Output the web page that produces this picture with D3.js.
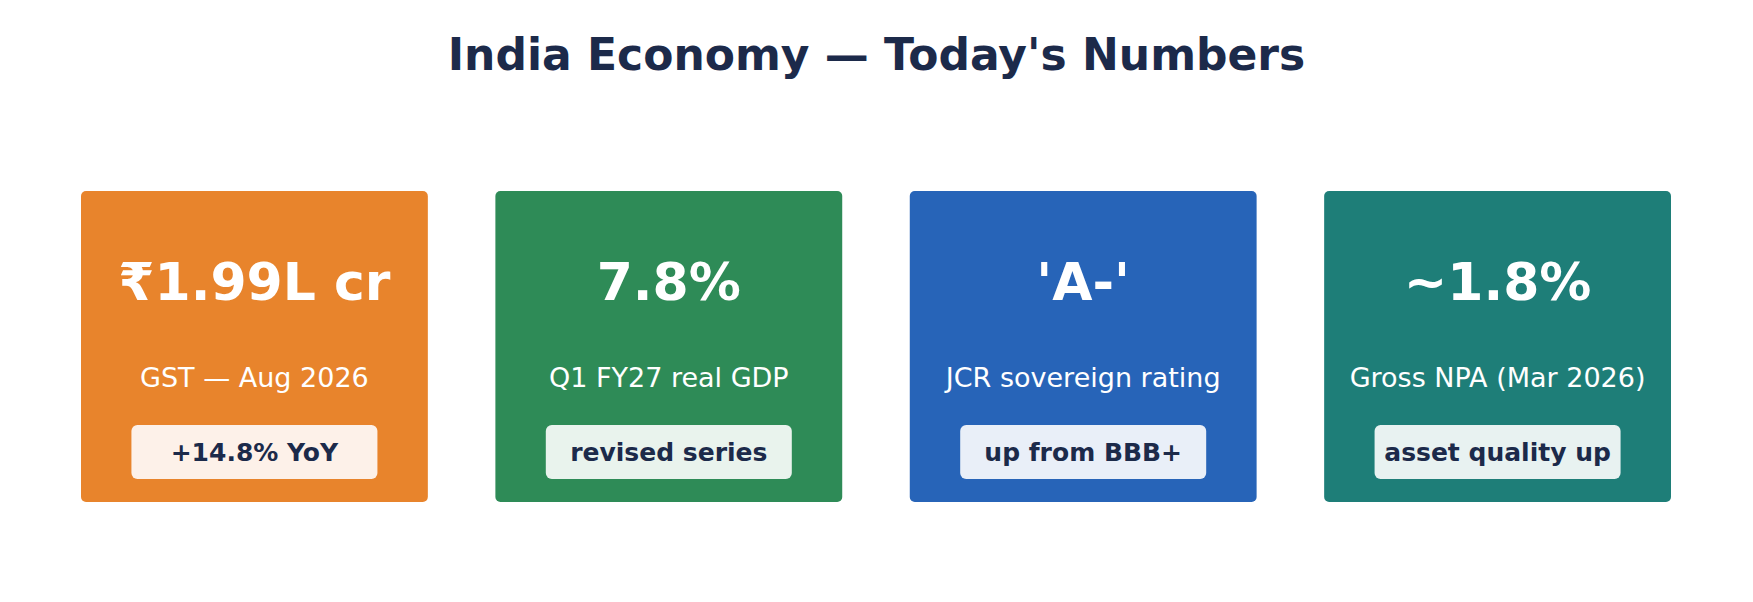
<!DOCTYPE html>
<html><head><meta charset="utf-8">
<script src="https://cdn.jsdelivr.net/npm/d3@7"></script>
<style>body{margin:0;background:#fff}</style>
</head><body><div id="chart"></div>
<script>
const values = ["₹1.99L cr", "7.8%", "'A-'", "~1.8%"];
const labels = ["GST — Aug 2026", "Q1 FY27 real GDP", "JCR sovereign rating", "Gross NPA (Mar 2026)"];
const notes = ["+14.8% YoY", "revised series", "up from BBB+", "asset quality up"];
const colors = ["#e8842c", "#2e8b57", "#2764b8", "#1e7e78"];
const tints = ["#fdf1e9", "#e9f3ed", "#e9eff8", "#e8f2f1"];

const width = 1753, height = 602;
const font = "DejaVu Sans, sans-serif";
const navy = "#1c2a4a";

const svg = d3.select("#chart").append("svg")
    .attr("width", width).attr("height", height);

svg.append("text")
    .attr("x", width / 2).attr("y", 70)
    .attr("text-anchor", "middle")
    .attr("font-family", font).attr("font-weight", "bold")
    .attr("font-size", 44).attr("fill", navy)
    .text("India Economy — Today's Numbers");

const x = d3.scaleBand().domain(d3.range(values.length))
    .range([81, 1671]).paddingInner(0.163);

const card = svg.selectAll("g.card").data(values).join("g")
    .attr("class", "card")
    .attr("transform", (d, i) => `translate(${x(i)},191)`);

const w = x.bandwidth();

card.append("rect")
    .attr("width", w).attr("height", 311).attr("rx", 5)
    .attr("fill", (d, i) => colors[i]);

card.append("text")
    .attr("x", w / 2).attr("y", 109)
    .attr("text-anchor", "middle")
    .attr("font-family", font).attr("font-weight", "bold")
    .attr("font-size", 52).attr("fill", "#fff")
    .text(d => d);

card.append("text")
    .attr("x", w / 2).attr("y", 196)
    .attr("text-anchor", "middle")
    .attr("font-family", font).attr("font-size", 27).attr("fill", "#fff")
    .text((d, i) => labels[i]);

card.append("rect")
    .attr("x", w / 2 - 123).attr("y", 234)
    .attr("width", 246).attr("height", 54).attr("rx", 6)
    .attr("fill", (d, i) => tints[i]);

card.append("text")
    .attr("x", w / 2).attr("y", 270)
    .attr("text-anchor", "middle")
    .attr("font-family", font).attr("font-weight", "bold")
    .attr("font-size", 25).attr("fill", navy)
    .text((d, i) => notes[i]);
</script>
</body></html>
